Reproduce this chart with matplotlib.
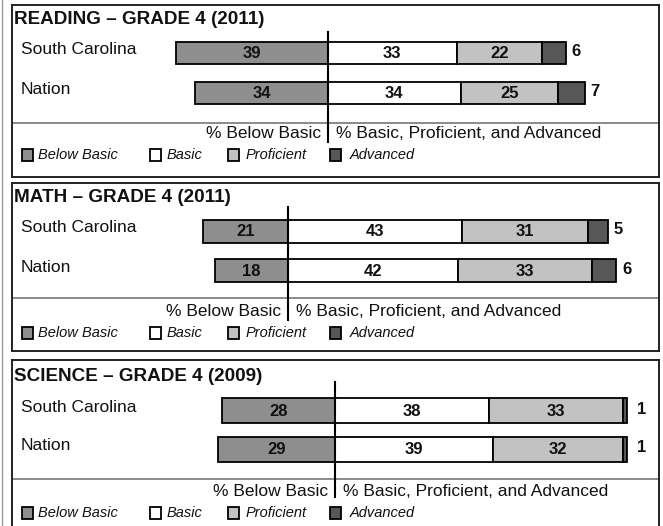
import matplotlib
matplotlib.use('Agg')
import matplotlib.pyplot as plt
from matplotlib.patches import Rectangle
from matplotlib.lines import Line2D

plt.rcParams['font.family'] = ['Liberation Sans', 'DejaVu Sans']

# data
titles = ['READING \u2013 GRADE 4 (2011)', 'MATH \u2013 GRADE 4 (2011)', 'SCIENCE \u2013 GRADE 4 (2009)']
groups = ['South Carolina', 'Nation']
below_basic = [[39, 34], [21, 18], [28, 29]]
basic = [[33, 34], [43, 42], [38, 39]]
proficient = [[22, 25], [31, 33], [33, 32]]
advanced = [[6, 7], [5, 6], [1, 1]]
levels = ['Below Basic', 'Basic', 'Proficient', 'Advanced']
colors = ['#8e8e8e', 'white', '#c2c2c2', '#575757']

W, H = 663, 526
BOX_L, BOX_R = 12, 659
TXT = '#111111'

# layout of each panel, in pixels from the top
panels = [
    dict(top=5, bottom=177, title_y=19, rows=(53, 93), bar_h=22, sep=123,
         zero=328, scale=3.9, zline=(32, 142), foot=133, leg=155, gap=5),
    dict(top=183, bottom=351, title_y=198, rows=(231, 270), bar_h=23, sep=298,
         zero=288, scale=4.05, zline=(207, 320), foot=311, leg=333, gap=6),
    dict(top=360, bottom=532, title_y=377, rows=(410, 449), bar_h=25, sep=479,
         zero=335, scale=4.05, zline=(382, 497), foot=491, leg=513, gap=10),
]
leg_sq = [22, 150, 228, 330]
leg_txt = [38, 167, 246, 350]

fig = plt.figure(figsize=(W / 100, H / 100), dpi=100)
fig.add_artist(Line2D([2 / W, 2 / W], [0, 1], color='#999999', lw=1.0))

for p, (title, pan) in enumerate(zip(titles, panels)):
    top, bottom, zero, scale = pan['top'], pan['bottom'], pan['zero'], pan['scale']
    ax = fig.add_axes([BOX_L / W, 1 - bottom / H, (BOX_R - BOX_L) / W, (bottom - top) / H])
    ax.set_xlim((BOX_L - zero) / scale, (BOX_R - zero) / scale)
    ax.set_ylim(bottom, top)
    ax.set_xticks([])
    ax.set_yticks([])
    for s in ax.spines.values():
        s.set_linewidth(1.4)
        s.set_color('#222222')

    def dx(px):
        return (px - zero) / scale

    ax.text(dx(14), pan['title_y'], title, fontsize=13.6, fontweight='bold',
            color=TXT, va='center', ha='left')

    for i, g in enumerate(groups):
        y = pan['rows'][i]
        bb, ba, pr, ad = below_basic[p][i], basic[p][i], proficient[p][i], advanced[p][i]
        lefts = [-bb, 0, ba, ba + pr]
        widths = [bb, ba, pr, ad]
        ax.barh(y, widths, left=lefts, height=pan['bar_h'], color=colors,
                edgecolor='black', linewidth=1.3, zorder=2)
        for k in range(3):
            ax.text(lefts[k] + widths[k] / 2, y + 1, str(widths[k]), fontsize=12,
                    fontweight='bold', color=TXT, ha='center', va='center', zorder=3)
        ax.text(ba + pr + ad + pan['gap'] / scale, y - 1, str(ad), fontsize=12,
                fontweight='bold', color=TXT, ha='left', va='center')
        ax.text(dx(21), y - 3, g, fontsize=12.5, color=TXT, ha='left', va='center')

    ax.axhline(pan['sep'], color='#8a8a8a', lw=1.4)
    ax.plot([0, 0], pan['zline'], color='black', lw=1.5, zorder=4, clip_on=False)

    ax.text(-7 / scale, pan['foot'], '% Below Basic', fontsize=12.5, color=TXT,
            ha='right', va='center')
    ax.text(8 / scale, pan['foot'], '% Basic, Proficient, and Advanced', fontsize=12.5,
            color=TXT, ha='left', va='center')

    for k, lab in enumerate(levels):
        ax.add_patch(Rectangle((dx(leg_sq[k]), pan['leg'] - 6), 11 / scale, 12,
                               facecolor=colors[k], edgecolor='black', lw=1.3))
        ax.text(dx(leg_txt[k]), pan['leg'], lab, fontsize=10.5, style='italic',
                color=TXT, ha='left', va='center')

fig.savefig('out.png', dpi=100)
